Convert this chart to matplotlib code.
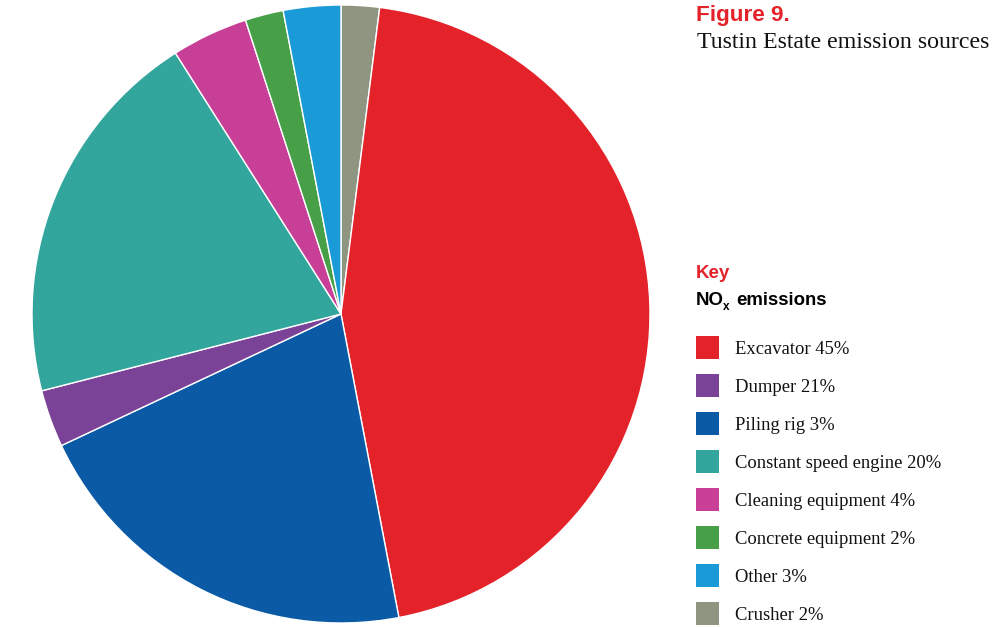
import matplotlib
matplotlib.use('Agg')
import matplotlib.pyplot as plt
from matplotlib.patches import Rectangle

W, H = 999, 627

# legend as printed in the figure
legend_labels = ['Excavator 45%', 'Dumper 21%', 'Piling rig 3%', 'Constant speed engine 20%',
                 'Cleaning equipment 4%', 'Concrete equipment 2%', 'Other 3%', 'Crusher 2%']
legend_colors = ['#E4222A', '#7B4397', '#0A5AA6', '#32A59D', '#C73F97', '#47A048', '#1A9AD6', '#8E9580']

# slices as drawn, clockwise from 12 o'clock
slice_values = [2, 45, 21, 3, 20, 4, 2, 3]
slice_colors = ['#8E9580', '#E4222A', '#0A5AA6', '#7B4397', '#32A59D', '#C73F97', '#47A048', '#1A9AD6']

fig = plt.figure(figsize=(W / 100, H / 100), dpi=100)

# pie centre ~ (341, 314) px, radius ~309 px
cx, cy, r = 341, 314, 309
ax = fig.add_axes([(cx - r) / W, (H - cy - r) / H, 2 * r / W, 2 * r / H])
ax.pie(slice_values, colors=slice_colors, startangle=90, counterclock=False,
       wedgeprops=dict(edgecolor='white', linewidth=1.0))
ax.set_xlim(-1, 1)
ax.set_ylim(-1, 1)
ax.set_aspect('equal')
ax.axis('off')

def ftext(x, y, s, **kw):
    return fig.text(x / W, 1 - y / H, s, va='baseline', ha='left', **kw)

sans = 'Liberation Sans'
serif = 'Liberation Serif'
red = '#E4222A'

ftext(696, 21, 'Figure 9.', family=sans, weight='bold', fontsize=16.2, color=red)
ftext(697, 48, 'Tustin Estate emission sources', family=serif, fontsize=17.2, color='#111111')

ftext(696, 278, 'Key', family=sans, weight='bold', fontsize=13.5, color=red)
ftext(696, 305, 'NO', family=sans, weight='bold', fontsize=13.4, color='black')
ftext(723, 310, 'x', family=sans, weight='bold', fontsize=8.5, color='black')
ftext(736, 305, 'emissions', family=sans, weight='bold', fontsize=13.4, color='black')

for i, (lab, col) in enumerate(zip(legend_labels, legend_colors)):
    top = 336 + 38 * i
    fig.patches.append(Rectangle((696 / W, 1 - (top + 23) / H), 23 / W, 23 / H,
                                 transform=fig.transFigure, facecolor=col, edgecolor='none'))
    ftext(735, 354 + 38 * i, lab, family=serif, fontsize=13.4, color='#111111')

fig.savefig('out.png', dpi=100, facecolor='white')
